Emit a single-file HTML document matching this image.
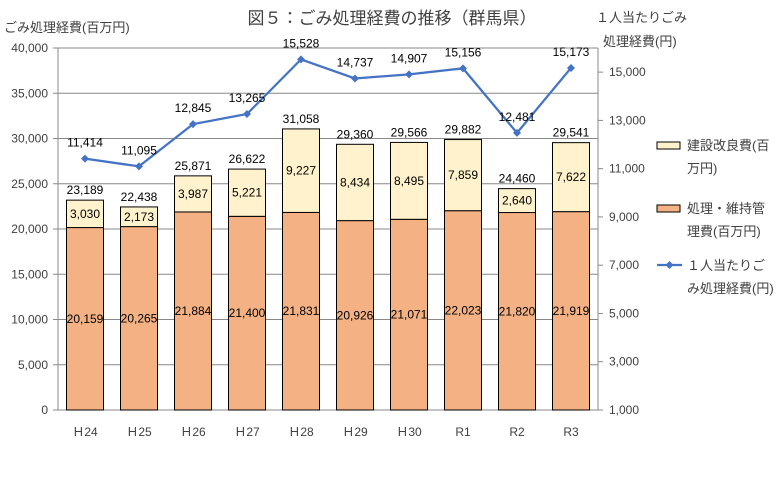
<!DOCTYPE html>
<html><head><meta charset="utf-8"><style>
body{margin:0;background:#fff}
svg text{font-family:"Liberation Sans","Noto Sans CJK JP",sans-serif}
</style></head><body>
<svg id="c" width="783" height="475" xmlns="http://www.w3.org/2000/svg"></svg>
<script>
const categories=["H24","H25","H26","H27","H28","H29","H30","R1","R2","R3"];
const catLabels=["Ｈ24","Ｈ25","Ｈ26","Ｈ27","Ｈ28","Ｈ29","Ｈ30","R1","R2","R3"];
const operating=[20159,20265,21884,21400,21831,20926,21071,22023,21820,21919];
const construction=[3030,2173,3987,5221,9227,8434,8495,7859,2640,7622];
const totals=[23189,22438,25871,26622,31058,29360,29566,29882,24460,29541];
const perCapita=[11414,11095,12845,13265,15528,14737,14907,15156,12481,15173];
const leftTicks=[0,5000,10000,15000,20000,25000,30000,35000,40000];
const rightTicks=[1000,3000,5000,7000,9000,11000,13000,15000];

const svg=document.getElementById('c');
const NS='http://www.w3.org/2000/svg';
const X0=58,X1=598,Y0=410,Y1=48;
const yL=v=>Y0-(v/40000)*(Y0-Y1);
const yR=v=>Y0-((v-1000)/15000)*(Y0-Y1);
const band=(X1-X0)/categories.length;
const xC=i=>X0+band*(i+0.5);
const fmt=v=>v.toLocaleString('en-US');
function mk(t,a,txt){const e=document.createElementNS(NS,t);for(const k in a)e.setAttribute(k,a[k]);if(txt!==undefined)e.textContent=txt;svg.appendChild(e);return e;}

let e;
e=mk('text',{x:392,y:24,'font-size':17,'text-anchor':'middle',fill:'#404040'},'図５：ごみ処理経費の推移（群馬県）');

e=mk('text',{x:4,y:32,'font-size':13,fill:'#404040'},'ごみ処理経費(百万円)');

e=mk('text',{x:596,y:22,'font-size':13,fill:'#404040'},'１人当たりごみ');

e=mk('text',{x:603,y:46,'font-size':13,fill:'#404040'},'処理経費(円)');


leftTicks.forEach(v=>{
  e=mk('line',{x1:X0,x2:X1,y1:yL(v),y2:yL(v),stroke:'#888','stroke-width':1});
  
  e=mk('line',{x1:X0-5,x2:X0,y1:yL(v),y2:yL(v),stroke:'#888'});
  
  e=mk('text',{x:X0-10,y:yL(v)+4,'font-size':12,'text-anchor':'end',fill:'#404040'},fmt(v));
  
});
rightTicks.forEach(v=>{
  e=mk('line',{x1:X1,x2:X1+5,y1:yR(v),y2:yR(v),stroke:'#888'});
  
  e=mk('text',{x:X1+11,y:yR(v)+4,'font-size':12,fill:'#404040'},fmt(v));
  
});
e=mk('line',{x1:X0,x2:X0,y1:Y1,y2:Y0,stroke:'#888'});

e=mk('line',{x1:X1,x2:X1,y1:Y1,y2:Y0,stroke:'#888'});


const bw=37;
categories.forEach((c,i)=>{
  const x=xC(i)-bw/2;
  e=mk('rect',{x:x,y:yL(operating[i]),width:bw,height:Y0-yL(operating[i]),fill:'#f4b183',stroke:'#000','stroke-width':1});
  
  const top=operating[i]+construction[i];
  e=mk('rect',{x:x,y:yL(top),width:bw,height:yL(operating[i])-yL(top),fill:'#fff2cc',stroke:'#000','stroke-width':1});
  
  e=mk('text',{x:xC(i),y:(yL(0)+yL(operating[i]))/2+4,'font-size':12,'text-anchor':'middle',fill:'#000'},fmt(operating[i]));
  
  e=mk('text',{x:xC(i),y:(yL(top)+yL(operating[i]))/2+4,'font-size':12,'text-anchor':'middle',fill:'#000'},fmt(construction[i]));
  
  e=mk('text',{x:xC(i),y:yL(totals[i])-6,'font-size':12,'text-anchor':'middle',fill:'#000'},fmt(totals[i]));
  
  e=mk('text',{x:xC(i),y:436,'font-size':12,'text-anchor':'middle',fill:'#404040'},catLabels[i]);
  
});
e=mk('polyline',{points:perCapita.map((v,i)=>xC(i)+','+yR(v)).join(' '),fill:'none',stroke:'#4472c4','stroke-width':2.25});

perCapita.forEach((v,i)=>{
  const x=xC(i),y=yR(v);
  e=mk('path',{d:`M${x} ${y-4}L${x+4} ${y}L${x} ${y+4}L${x-4} ${y}Z`,fill:'#4472c4'});
  
  e=mk('text',{x:x,y:y-12,'font-size':12,'text-anchor':'middle',fill:'#000'},fmt(v));
  
});

e=mk('rect',{x:657,y:142,width:23,height:7,fill:'#fff2cc',stroke:'#000'});

e=mk('text',{x:687,y:150,'font-size':13,fill:'#404040'},'建設改良費(百');

mk('text',{x:687,y:173,'font-size':13,fill:'#404040'},'万円)');
e=mk('rect',{x:657,y:205,width:23,height:7,fill:'#f4b183',stroke:'#000'});

e=mk('text',{x:687,y:213,'font-size':13,fill:'#404040'},'処理・維持管');

mk('text',{x:687,y:236,'font-size':13,fill:'#404040'},'理費(百万円)');
e=mk('line',{x1:657,x2:682,y1:265,y2:265,stroke:'#4472c4','stroke-width':2.25});

mk('path',{d:'M669.5 261L673.5 265L669.5 269L665.5 265Z',fill:'#4472c4'});
e=mk('text',{x:687,y:270,'font-size':13,fill:'#404040'},'１人当たりご');

mk('text',{x:687,y:293,'font-size':13,fill:'#404040'},'み処理経費(円)');
</script>
</body></html>
